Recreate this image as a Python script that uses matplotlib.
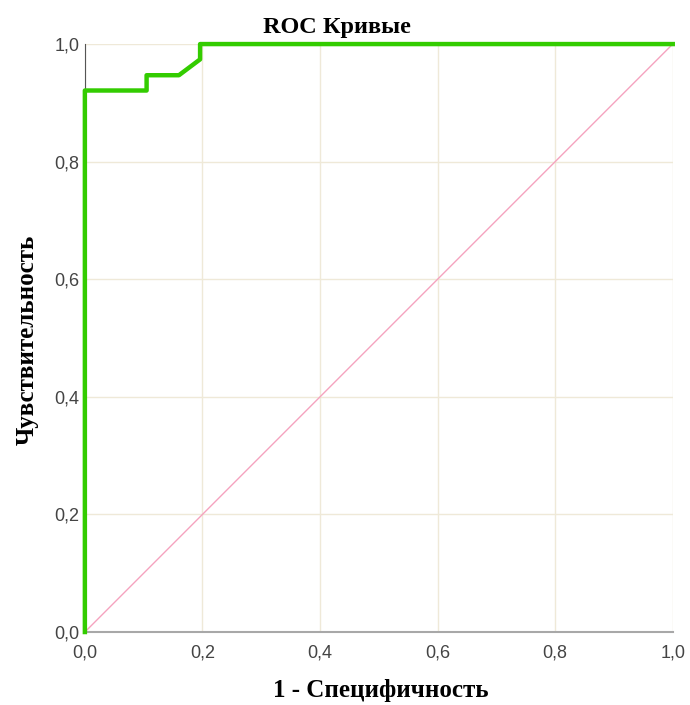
import matplotlib.pyplot as plt

# ROC curve
fpr = [0.0, 0.0, 0.105, 0.105, 0.160, 0.196, 0.196, 1.0]
tpr = [0.0, 0.921, 0.921, 0.947, 0.947, 0.974, 1.0, 1.0]
ref_x = [0.0, 1.0]
ref_y = [0.0, 1.0]
ticks = [0.0, 0.2, 0.4, 0.6, 0.8, 1.0]
tick_labels = ['0,0', '0,2', '0,4', '0,6', '0,8', '1,0']

plt.rcParams['font.family'] = ['Liberation Serif', 'DejaVu Serif']

fig = plt.figure(figsize=(6.9, 7.05), dpi=100)
ax = fig.add_axes([0.123, 0.1035, 0.852, 0.834])

ax.plot(ref_x, ref_y, color='#f5a3bf', lw=1.0, zorder=2)
ax.plot(fpr, tpr, color='#33cc00', lw=3.2, zorder=3, clip_on=False)

ax.set_xlim(0, 1)
ax.set_ylim(0, 1)
ax.set_xticks(ticks)
ax.set_yticks(ticks)
ax.set_xticklabels(tick_labels, family='Liberation Sans')
ax.set_yticklabels(tick_labels, family='Liberation Sans', va='top')
ax.tick_params(length=0, labelsize=13, labelcolor='#444444')
ax.tick_params(axis='x', pad=9)
ax.tick_params(axis='y', pad=4)
# labels sit a little below their grid line in the reference
for lab in ax.get_yticklabels():
    lab.set_verticalalignment('center_baseline')
ax.grid(True, color='#efe9d8', lw=1.0)
ax.set_axisbelow(True)

for s in ['top', 'right']:
    ax.spines[s].set_visible(False)
ax.spines['left'].set_color('#555555')
ax.spines['left'].set_linewidth(0.8)
ax.spines['bottom'].set_color('#a8a8a8')
ax.spines['bottom'].set_linewidth(1.5)

fig.text(337 / 690, 1 - 28 / 705, 'ROC Кривые', ha='center', va='center',
         fontsize=17.5, fontweight='bold')
fig.text(381 / 690, 1 - 691 / 705, '1 - Специфичность', ha='center',
         va='center', fontsize=18, fontweight='bold')
fig.text(27 / 690, 1 - 340 / 705, 'Чувствительность', ha='center',
         va='center', rotation=90, fontsize=18, fontweight='bold')

fig.savefig('out.png')
